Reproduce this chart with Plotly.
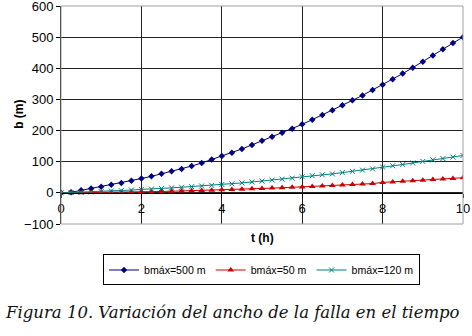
import plotly.graph_objects as go

t = [i * 0.25 for i in range(41)]

b_500 = [0, 2, 8, 14, 20, 26, 32, 39, 46, 53, 61, 69, 77, 86, 96, 107, 118, 129, 141, 154,
         167, 180, 193, 206, 220, 235, 250, 265, 281, 297, 313, 330, 347, 365, 383, 402,
         421, 441, 461, 481, 500]
b_50 = [0, 0.2, 0.5, 0.8, 1.2, 1.6, 2.1, 2.6, 3.2, 3.8, 4.5, 5.2, 6, 6.8, 7.7, 8.6, 9.6,
        10.6, 11.7, 12.8, 14, 15.2, 16.5, 17.8, 19.2, 20.6, 22, 23.5, 25, 26.6, 28.2, 29.8,
        33.5, 35.2, 37, 38.8, 40.6, 42.5, 44.4, 46.4, 48.5]
b_120 = [0, 1, 2, 3, 4, 6, 7, 9, 11, 12, 14, 16, 18, 20, 22, 24, 27, 29, 32, 35, 38, 41,
         44, 47, 52, 55, 58, 61, 65, 69, 73, 77, 83, 87, 91, 96, 101, 106, 110, 115, 120]

series_names = ["bmáx=500 m", "bmáx=50 m", "bmáx=120 m"]
caption = "Figura 10. Variación del ancho de la falla en el tiempo"

fig = go.Figure()
fig.add_trace(go.Scatter(x=t, y=b_500, name=series_names[0], mode="lines+markers",
                         line=dict(color="#000080", width=1),
                         marker=dict(symbol="diamond", size=5, color="#000080")))
fig.add_trace(go.Scatter(x=t, y=b_50, name=series_names[1], mode="lines+markers",
                         line=dict(color="#cc0000", width=1),
                         marker=dict(symbol="triangle-up", size=6, color="#cc0000")))
fig.add_trace(go.Scatter(x=t, y=b_120, name=series_names[2], mode="lines+markers",
                         line=dict(color="#008080", width=1),
                         marker=dict(symbol="x-thin", size=5, color="#008080",
                                     line=dict(color="#008080", width=1))))

tickfont = dict(family="Liberation Sans, Arial, sans-serif", size=13, color="black")

fig.update_layout(
    width=472, height=336,
    margin=dict(l=61, r=9, t=6, b=112, autoexpand=False),
    paper_bgcolor="white", plot_bgcolor="white",
    showlegend=True,
    legend=dict(orientation="h", x=0.4988, xanchor="center", y=-0.211, yanchor="middle",
                bordercolor="black", borderwidth=1, bgcolor="white",
                font=dict(family="Liberation Sans, Arial, sans-serif", size=10.6, color="black"),
                itemwidth=30, tracegroupgap=0),
    xaxis=dict(range=[0, 10], dtick=2, anchor="free", position=1/7,
               showline=True, linecolor="black", linewidth=1,
               ticks="outside", ticklen=4, tickcolor="black",
               showgrid=True, gridcolor="#222", gridwidth=1, zeroline=False,
               tickfont=tickfont, automargin=False, ticklabeloverflow="allow"),
    yaxis=dict(range=[-100, 600], dtick=100,
               showline=True, linecolor="black", linewidth=1,
               ticks="outside", ticklen=4, tickcolor="black",
               showgrid=True, gridcolor="#222", gridwidth=1,
               zeroline=False, tickfont=tickfont, automargin=False,
               ticklabeloverflow="allow"),
    shapes=[dict(type="rect", xref="x domain", yref="y domain", x0=0, x1=1, y0=0, y1=1,
                 line=dict(color="#a0a0a0", width=1), layer="above")],
    annotations=[
        dict(text="<b>b (m)</b>", xref="paper", yref="paper", x=-0.127, y=0.505,
             textangle=-90, showarrow=False,
             font=dict(family="Liberation Sans, Arial, sans-serif", size=12, color="black")),
        dict(text="<b>t (h)</b>", xref="paper", yref="paper", x=0.5, y=-0.1055,
             showarrow=False,
             font=dict(family="Liberation Sans, Arial, sans-serif", size=12, color="black")),
        dict(text="<i>" + caption + "</i>", xref="paper", yref="paper", x=-0.145, y=-0.408,
             xanchor="left", yanchor="middle", showarrow=False,
             font=dict(family="DejaVu Serif, serif", size=16.5, color="#111")),
    ],
)

fig.write_html("out.html", config={"displayModeBar": False},
               post_script="document.body.style.margin='0';document.body.style.overflow='hidden';")
